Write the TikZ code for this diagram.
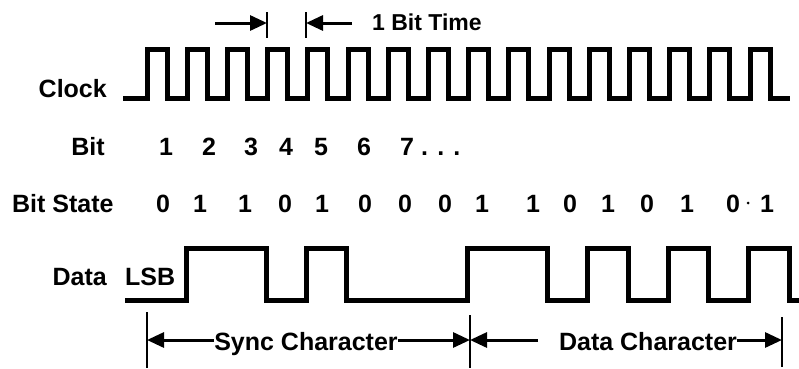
\documentclass[tikz,border=0pt]{standalone}
\usepackage{fontspec}
\setmainfont{Liberation Sans}
\usetikzlibrary{arrows.meta}

\begin{document}
\begin{tikzpicture}[x=1bp,y=-1bp,
        wave/.style={line width=5bp,line join=miter},
        bar/.style={line width=2.5bp},
        dimarrow/.style={line width=3bp,-{Triangle[length=17bp,width=15bp]}},
        lbl/.style={font=\fontsize{25bp}{28bp}\selectfont\bfseries,inner sep=0pt},
        small/.style={font=\fontsize{23bp}{26bp}\selectfont\bfseries,inner sep=0pt}]
        \useasboundingbox (0,0) rectangle (799,368);

        % row labels
        \node[lbl,anchor=base east] (clock) at (107,97) {Clock};
        \node[lbl,anchor=base] (bit) at (88,155) {Bit};
        \node[lbl,anchor=base west] (state) at (12,212) {Bit State};
        \node[lbl,anchor=base east] (data) at (107,285) {Data};
        \node[lbl,anchor=base west] (lsb) at (125,285) {LSB};

        % clock
        \draw[wave] (123,98) \foreach \k in {0,...,15}{ -| ({147+40.2*\k},49) -| ({167+40.2*\k},98)} -- (790,98);

        % 1 bit time
        \coordinate (t0) at (267,23);
        \coordinate (t1) at (306,23);
        \coordinate (ta) at (215,23);
        \coordinate (tb) at (352,23);
        \draw[bar] (267,12) -- (267,38);
        \draw[bar] (306,12) -- (306,38);
        \draw[dimarrow] (ta) -- (t0);
        \draw[dimarrow] (tb) -- (t1);
        \node[small,anchor=base west] (bittime) at (372,30) {1 Bit Time};

        % bit numbers
        \foreach \x/\n in {166/1,209/2,251/3,286/4,321/5,364/6}
            \node[lbl,anchor=base] (b\n) at (\x,155) {\n};
        \node[lbl,anchor=base west] (b7) at (400,155) {7 . . .};

        % bit states
        \foreach \x/\s [count=\i] in {163/0,200/1,245/1,285/0,322/1,365/0,405/0,445/0,
                482/1,533/1,570/0,608/1,647/0,687/1,733/0,767/1}
            \node[lbl,anchor=base] (s\i) at (\x,212) {\s};
        \fill (748,203) circle (1.5);

        % data
        \draw[wave] (125,300) -| (186,248) -| (266,300) -| (306,248) -| (346,300) -| (467,248)
            -| (547,300) -| (587,248) -| (628,300) -| (668,248) -| (708,300) -| (748,248)
            -| (789,300) -- (799,300);

        % characters
        \coordinate (c0) at (147,340);
        \coordinate (c1) at (470,340);
        \coordinate (c2) at (782,340);
        \coordinate (dl) at (538,340);
        \draw[bar] (147,312) -- (147,368);
        \draw[bar] (470,315) -- (470,368);
        \draw[bar] (782,317) -- (782,367);
        \node[lbl,anchor=base] (sync) at (306,350) {Sync Character};
        \node[lbl,anchor=base] (datachar) at (648,350) {Data Character};
        \draw[dimarrow] (sync.west |- c0) -- (c0);
        \draw[dimarrow] (sync.east |- c1) -- (c1);
        \draw[dimarrow] (dl) -- (c1);
        \draw[dimarrow] (datachar.east |- c2) -- (c2);
\end{tikzpicture}
\end{document}
